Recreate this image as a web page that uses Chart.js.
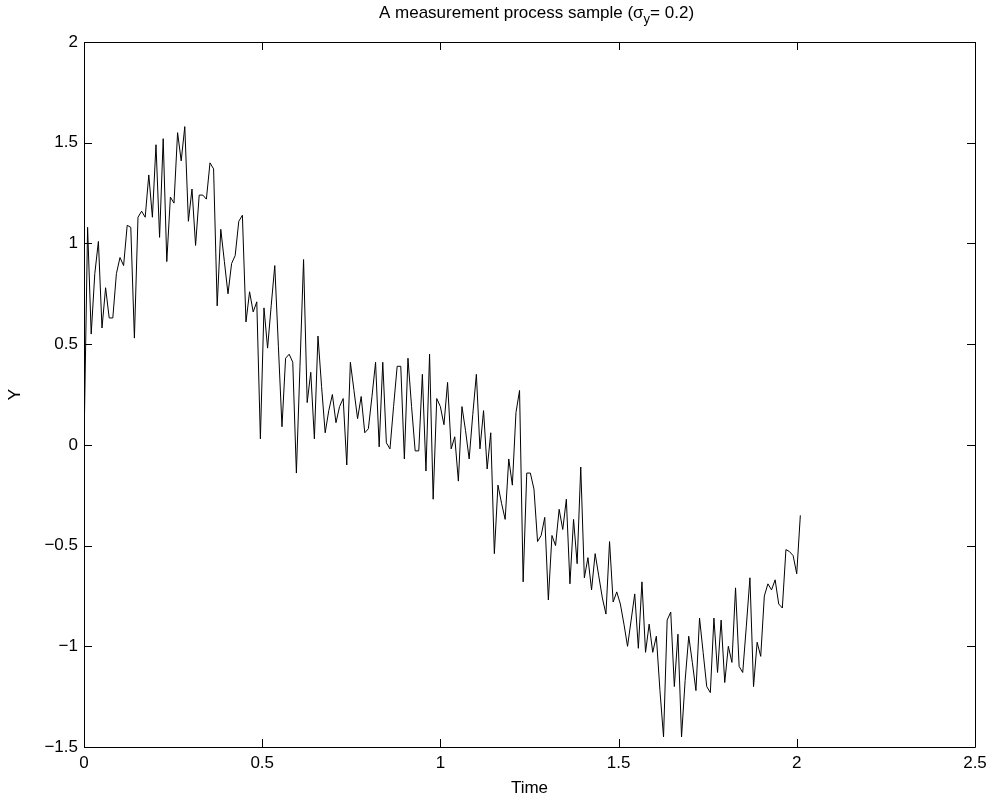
<!DOCTYPE html>
<html>
<head>
<meta charset="utf-8">
<script src="https://cdn.jsdelivr.net/npm/chart.js@4/dist/chart.umd.min.js"></script>
<style>
  html, body { margin: 0; padding: 0; background: #ffffff; }
  #wrap { width: 993px; height: 803px; }
</style>
</head>
<body>
<div id="wrap"><canvas id="process-chart" width="993" height="803"></canvas></div>
<script>
// sampled measurement process, one value per time step
var sampleStep = 0.0101;
var yValues = [
  0.00, 1.08, 0.55, 0.85, 1.01, 0.58, 0.78, 0.63, 0.63, 0.85,
  0.93, 0.89, 1.09, 1.08, 0.53, 1.13, 1.16, 1.13, 1.34, 1.13,
  1.49, 1.03, 1.52, 0.91, 1.23, 1.20, 1.55, 1.41, 1.58, 1.11,
  1.27, 0.99, 1.24, 1.24, 1.22, 1.40, 1.37, 0.69, 1.07, 0.91,
  0.75, 0.90, 0.94, 1.11, 1.14, 0.61, 0.76, 0.66, 0.71, 0.03,
  0.68, 0.48, 0.69, 0.89, 0.49, 0.09, 0.43, 0.45, 0.41, -0.14,
  0.39, 0.92, 0.21, 0.36, 0.03, 0.54, 0.29, 0.06, 0.17, 0.25,
  0.11, 0.19, 0.23, -0.10, 0.41, 0.27, 0.13, 0.24, 0.06, 0.08,
  0.24, 0.41, -0.01, 0.41, 0.01, -0.02, 0.19, 0.39, 0.39, -0.07,
  0.43, 0.19, -0.03, -0.03, 0.35, -0.13, 0.45, -0.27, 0.23, 0.19,
  0.10, 0.31, -0.02, 0.04, -0.18, 0.19, 0.07, -0.07, 0.15, 0.35,
  -0.02, 0.17, -0.12, 0.06, -0.54, -0.20, -0.29, -0.37, -0.07, -0.20,
  0.16, 0.27, -0.68, -0.14, -0.14, -0.22, -0.48, -0.45, -0.36, -0.77,
  -0.45, -0.50, -0.32, -0.42, -0.27, -0.69, -0.37, -0.59, -0.11, -0.66,
  -0.56, -0.72, -0.54, -0.65, -0.76, -0.84, -0.48, -0.78, -0.73, -0.79,
  -0.89, -1.00, -0.87, -0.74, -1.01, -0.68, -1.03, -0.89, -1.03, -0.95,
  -1.22, -1.45, -0.87, -0.83, -1.20, -0.94, -1.45, -1.17, -0.95, -1.08,
  -1.22, -0.86, -1.03, -1.20, -1.23, -0.86, -1.13, -0.87, -1.18, -1.00,
  -1.08, -0.71, -1.10, -1.13, -0.90, -0.66, -1.20, -0.98, -1.05, -0.75,
  -0.69, -0.72, -0.67, -0.79, -0.81, -0.52, -0.53, -0.55, -0.64, -0.35
];
var xTicks = [0, 0.5, 1, 1.5, 2, 2.5];
var yTicks = [-1.5, -1, -0.5, 0, 0.5, 1, 1.5, 2];
var xLabels = ["0", "0.5", "1", "1.5", "2", "2.5"];
var yLabels = ["\u22121.5", "\u22121", "\u22120.5", "0", "0.5", "1", "1.5", "2"];

var fontFamily = "'Liberation Sans', Arial, Helvetica, sans-serif";
var fontSize = 17;

// points on the time grid
var points = yValues.map(function (v, i) {
  return { x: i * sampleStep, y: v };
});

// box with inward ticks on all four sides, plus the title with subscript
var frame = {
  id: 'frame',
  afterDraw: function (chart) {
    var ctx = chart.ctx;
    var a = chart.chartArea;
    var xs = chart.scales.x;
    var ys = chart.scales.y;
    var len = 8;
    ctx.save();
    ctx.strokeStyle = '#000';
    ctx.lineWidth = 1;
    ctx.beginPath();
    ctx.rect(Math.round(a.left) + 0.5, Math.round(a.top) + 0.5,
      Math.round(a.right - a.left), Math.round(a.bottom - a.top));
    xTicks.forEach(function (v) {
      var px = Math.round(xs.getPixelForValue(v)) + 0.5;
      ctx.moveTo(px, a.bottom);
      ctx.lineTo(px, a.bottom - len);
      ctx.moveTo(px, a.top);
      ctx.lineTo(px, a.top + len);
    });
    yTicks.forEach(function (v) {
      var py = Math.round(ys.getPixelForValue(v)) + 0.5;
      ctx.moveTo(a.left, py);
      ctx.lineTo(a.left + len, py);
      ctx.moveTo(a.right, py);
      ctx.lineTo(a.right - len, py);
    });
    ctx.stroke();

    // title: "A measurement process sample (σ" + subscript y + "= 0.2)"
    var t1 = 'A measurement process sample (\u03c3';
    var t2 = 'y';
    var t3 = '= 0.2)';
    var big = fontSize + 'px ' + fontFamily;
    var small = Math.round(fontSize * 0.75) + 'px ' + fontFamily;
    ctx.fillStyle = '#000';
    ctx.textBaseline = 'alphabetic';
    ctx.textAlign = 'left';
    ctx.font = big;
    var w1 = ctx.measureText(t1).width;
    var w3 = ctx.measureText(t3).width;
    ctx.font = small;
    var w2 = ctx.measureText(t2).width;
    var cx = (a.left + a.right) / 2 + 7;
    var x0 = cx - (w1 + w2 + w3) / 2;
    var base = 18;
    ctx.font = big;
    ctx.fillText(t1, x0, base);
    ctx.font = small;
    ctx.fillText(t2, x0 + w1, base + 5);
    ctx.font = big;
    ctx.fillText(t3, x0 + w1 + w2, base);
    ctx.restore();
  }
};

var ctx = document.getElementById("process-chart").getContext('2d');

var data = {
  datasets: [
    {
      label: 'Y',
      data: points,
      borderColor: '#000000',
      backgroundColor: '#000000',
      borderWidth: 1,
      pointRadius: 0,
      tension: 0,
      fill: false
    }
  ]
};

var options = {
  responsive: false,
  animation: false,
  devicePixelRatio: 1,
  layout: {
    padding: { top: 42, right: 18, left: 0, bottom: 0 }
  },
  plugins: {
    legend: { display: false },
    title: { display: false },
    tooltip: { enabled: false }
  },
  scales: {
    x: {
      type: 'linear',
      min: 0,
      max: 2.5,
      grid: { display: false, drawTicks: false },
      border: { display: false },
      afterBuildTicks: function (scale) {
        scale.ticks = xTicks.map(function (v) { return { value: v }; });
      },
      afterFit: function (scale) { scale.height = 56; },
      ticks: {
        color: '#000',
        padding: 6,
        maxRotation: 0,
        font: { family: fontFamily, size: fontSize },
        callback: function (value) { return xLabels[xTicks.indexOf(value)]; }
      },
      title: {
        display: true,
        text: 'Time',
        color: '#000',
        padding: { top: 0, bottom: 4 },
        font: { family: fontFamily, size: fontSize }
      }
    },
    y: {
      type: 'linear',
      min: -1.5,
      max: 2,
      grid: { display: false, drawTicks: false },
      border: { display: false },
      afterBuildTicks: function (scale) {
        scale.ticks = yTicks.map(function (v) { return { value: v }; });
      },
      afterFit: function (scale) { scale.width = 84; },
      ticks: {
        color: '#000',
        padding: 6,
        font: { family: fontFamily, size: fontSize },
        callback: function (value) { return yLabels[yTicks.indexOf(value)]; }
      },
      title: {
        display: true,
        text: 'Y',
        color: '#000',
        padding: { top: 5, bottom: 0 },
        font: { family: fontFamily, size: fontSize }
      }
    }
  }
};

var chart = new Chart(ctx, {
  type: 'line',
  data: data,
  options: options,
  plugins: [frame]
});
</script>
</body>
</html>
